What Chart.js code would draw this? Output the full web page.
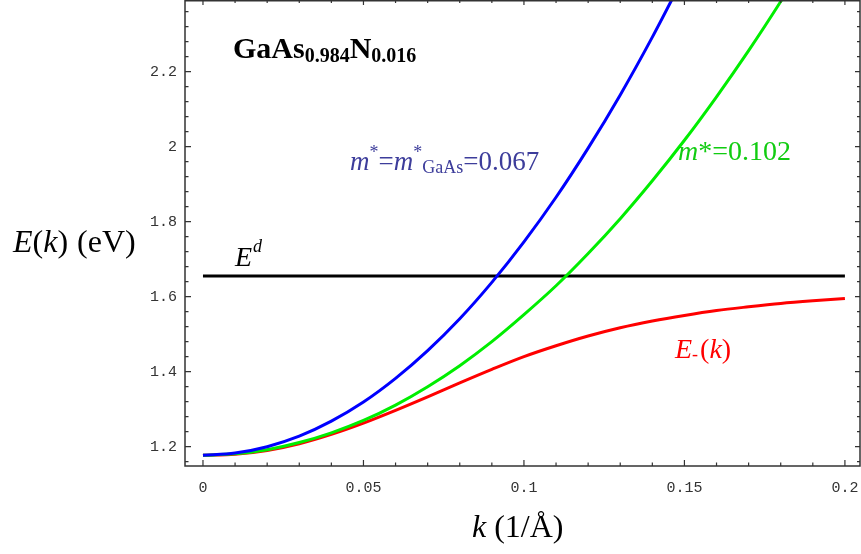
<!DOCTYPE html>
<html><head><meta charset="utf-8">
<script src="https://cdn.jsdelivr.net/npm/chart.js@4/dist/chart.umd.min.js"></script>
<style>html,body{margin:0;padding:0;background:#fff;overflow:hidden}#wrap{width:861px;height:554px;position:relative}</style>
</head><body><div id="wrap"><canvas id="c" width="861" height="554"></canvas></div>
<script>
// ---- data ----
const kValues = [0,0.01,0.02,0.03,0.04,0.05,0.06,0.07,0.08,0.09,0.10,0.11,0.12,0.13,0.14,0.15,0.16,0.17,0.18,0.19,0.20];
const eBlue  = [1.177,1.183,1.200,1.228,1.268,1.319,1.382,1.456,1.541,1.638,1.746,1.865,1.996,2.138,2.292,2.457];
const eGreen = [1.177,1.181,1.192,1.211,1.237,1.270,1.311,1.360,1.416,1.480,1.552,1.629,1.715,1.808,1.909,2.017,2.133,2.256,2.387,2.525];
const eRed   = [1.177,1.180,1.190,1.208,1.233,1.263,1.297,1.333,1.370,1.406,1.440,1.469,1.495,1.517,1.535,1.550,1.563,1.573,1.582,1.589,1.595];
const edK = [0, 0.2];
const edE = [1.655, 1.655];
const xTicks = [0,0.05,0.1,0.15,0.2];
const xTickLabels = ["0","0.05","0.1","0.15","0.2"];
const yTicks = [1.2,1.4,1.6,1.8,2,2.2];
const yTickLabels = ["1.2","1.4","1.6","1.8","2","2.2"];
const xMinorStep = 0.01;
const yMinorStep = 0.04;

const toPts = (ks, es) => es.map((e,i)=>({x:ks[i], y:e}));
const SERIF = '"Liberation Serif","Times New Roman",serif';

const framePlugin = {
  id:'frame',
  afterDatasetsDraw(chart){
    const {ctx, chartArea:a, scales:{x,y}} = chart;
    ctx.save();
    ctx.strokeStyle = '#333';
    ctx.lineWidth = 1.5;
    ctx.strokeRect(a.left, a.top+0.75, a.right-a.left, a.bottom-a.top-0.75);
    ctx.lineWidth = 1.2;
    ctx.beginPath();
    const xs = [];
    for (let v = Math.ceil(x.min/xMinorStep)*xMinorStep; v <= x.max+1e-9; v += xMinorStep) xs.push(+v.toFixed(4));
    xs.forEach(v=>{
      const px = x.getPixelForValue(v);
      const major = xTicks.some(t=>Math.abs(t-v)<1e-6);
      const lb = major?6:3.5, lt = major?5:3;
      ctx.moveTo(px, a.bottom); ctx.lineTo(px, a.bottom-lb);
      ctx.moveTo(px, a.top); ctx.lineTo(px, a.top+lt);
    });
    const ys = [];
    for (let v = 1.2 - Math.floor((1.2-y.min)/yMinorStep)*yMinorStep; v <= y.max+1e-9; v += yMinorStep) ys.push(+v.toFixed(4));
    ys.forEach(v=>{
      const py = y.getPixelForValue(v);
      const major = yTicks.some(t=>Math.abs(t-v)<1e-6);
      const ll = major?6:3.5, lr = major?5:3;
      ctx.moveTo(a.left, py); ctx.lineTo(a.left+ll, py);
      ctx.moveTo(a.right, py); ctx.lineTo(a.right-lr, py);
    });
    ctx.stroke();
    ctx.restore();
  },
  afterDraw(chart){
    const ctx = chart.ctx;
    function rich(x, y, color, parts){
      ctx.save(); ctx.fillStyle = color; ctx.textBaseline='alphabetic'; ctx.textAlign='left';
      parts.forEach(p=>{
        ctx.font = p.f;
        x += (p.dx||0);
        ctx.fillText(p.t, x, y + (p.dy||0));
        x += ctx.measureText(p.t).width;
      });
      ctx.restore();
    }
    rich(233, 58, '#000', [
      {t:'GaAs', f:'bold 30px '+SERIF},
      {t:'0.984', f:'bold 20px '+SERIF, dy:4},
      {t:'N', f:'bold 30px '+SERIF},
      {t:'0.016', f:'bold 20px '+SERIF, dy:4}
    ]);
    rich(350, 170, '#3d3d9b', [
      {t:'m', f:'italic 27px '+SERIF},
      {t:'*', f:'18px '+SERIF, dy:-12},
      {t:'=', f:'27px '+SERIF},
      {t:'m', f:'italic 27px '+SERIF},
      {t:'*', f:'18px '+SERIF, dy:-12},
      {t:'GaAs', f:'18px '+SERIF, dy:3},
      {t:'=0.067', f:'27px '+SERIF}
    ]);
    rich(678, 160, '#11cc11', [
      {t:'m', f:'italic 28px '+SERIF},
      {t:'*=0.102', f:'28px '+SERIF}
    ]);
    rich(235, 266, '#000', [
      {t:'E', f:'italic 28px '+SERIF},
      {t:'d', f:'italic 18px '+SERIF, dy:-14, dx:1}
    ]);
    rich(675, 358, '#ff0000', [
      {t:'E', f:'italic 28px '+SERIF},
      {t:'-', f:'18px '+SERIF, dy:2},
      {t:'(', f:'28px '+SERIF, dx:2},
      {t:'k', f:'italic 28px '+SERIF},
      {t:')', f:'28px '+SERIF}
    ]);
    rich(13, 252, '#000', [
      {t:'E', f:'italic 32px '+SERIF},
      {t:'(', f:'32px '+SERIF},
      {t:'k', f:'italic 32px '+SERIF},
      {t:')', f:'32px '+SERIF},
      {t:' (eV)', f:'32px '+SERIF, dx:1}
    ]);
    rich(472, 537, '#000', [
      {t:'k', f:'italic 32px '+SERIF},
      {t:' (1/Å)', f:'32px '+SERIF}
    ]);
  }
};

new Chart(document.getElementById('c'), {
  type:'line',
  data:{
    datasets:[
      {label:'m*=0.067', data:toPts(kValues,eBlue), borderColor:'#0000ff', borderWidth:3},
      {label:'m*=0.102', data:toPts(kValues,eGreen), borderColor:'#00ee00', borderWidth:3},
      {label:'E-(k)', data:toPts(kValues,eRed), borderColor:'#ff0000', borderWidth:3},
      {label:'Ed', data:toPts(edK,edE), borderColor:'#000000', borderWidth:3, cubicInterpolationMode:'default', tension:0}
    ]
  },
  options:{
    responsive:false, animation:false, devicePixelRatio:1,
    layout:{padding:{top:0,right:1,left:0,bottom:0}},
    datasets:{line:{pointRadius:0, cubicInterpolationMode:'monotone', fill:false}},
    plugins:{legend:{display:false}, tooltip:{enabled:false}},
    scales:{
      x:{type:'linear', min:-0.0056, max:0.2047,
        grid:{display:false, drawTicks:false}, border:{display:false},
        afterBuildTicks:s=>{s.ticks = xTicks.map(v=>({value:v}));},
        afterFit:s=>{s.height = 88; s.paddingLeft = 0; s.paddingRight = 0;},
        ticks:{padding:13, maxRotation:0, autoSkip:false, color:'#333',
          font:{family:'"Liberation Mono", monospace', size:15},
          callback:(v)=>{const i = xTicks.findIndex(t=>Math.abs(t-v)<1e-9); return i>=0?xTickLabels[i]:'';}}
      },
      y:{type:'linear', min:1.1485, max:2.391,
        grid:{display:false, drawTicks:false}, border:{display:false},
        afterBuildTicks:s=>{s.ticks = yTicks.map(v=>({value:v}));},
        afterFit:s=>{s.width = 185; s.paddingTop = 0; s.paddingBottom = 0;},
        ticks:{padding:8, autoSkip:false, color:'#333',
          font:{family:'"Liberation Mono", monospace', size:15},
          callback:(v)=>{const i = yTicks.findIndex(t=>Math.abs(t-v)<1e-9); return i>=0?yTickLabels[i]:'';}}
      }
    }
  },
  plugins:[framePlugin]
});
</script>
</body></html>
